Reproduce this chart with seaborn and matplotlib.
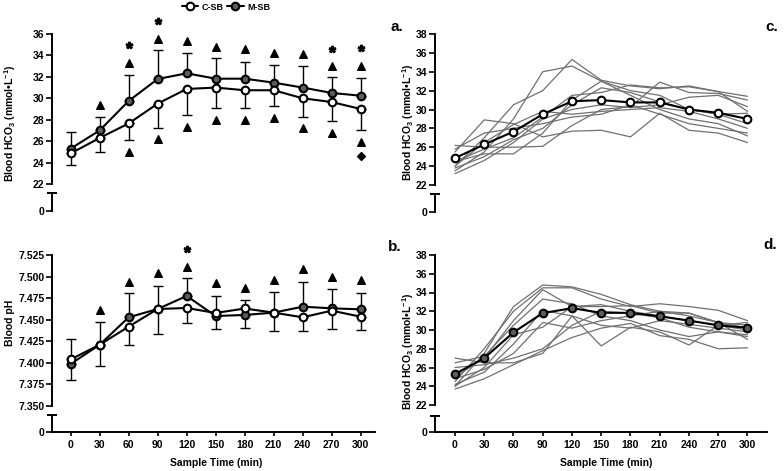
import numpy as np
import pandas as pd
import matplotlib
matplotlib.use("Agg")
import matplotlib.pyplot as plt
import seaborn as sns
from matplotlib.lines import Line2D

sns.set_theme(style="ticks")
plt.rcParams['font.family'] = ['Liberation Sans', 'DejaVu Sans']
plt.rcParams['font.weight'] = 'bold'
plt.rcParams['mathtext.fontset'] = 'custom'
plt.rcParams['mathtext.rm'] = 'Liberation Sans:bold'
plt.rcParams['mathtext.bf'] = 'Liberation Sans:bold'
plt.rcParams['mathtext.it'] = 'Liberation Sans:bold'
plt.rcParams['mathtext.default'] = 'bf'
for k in ['text.color', 'axes.labelcolor', 'xtick.color', 'ytick.color', 'axes.edgecolor']:
    plt.rcParams[k] = 'black'

# ---------------- data ----------------
times = [0, 30, 60, 90, 120, 150, 180, 210, 240, 270, 300]

c_sb_hco3 = [24.85, 26.3, 27.65, 29.5, 30.87, 31.0, 30.75, 30.75, 30.0, 29.65, 29.0]
c_sb_hco3_sd = [1.03, 1.3, 1.56, 2.25, 2.47, 1.9, 1.64, 1.44, 1.7, 1.75, 1.96]
m_sb_hco3 = [25.3, 27.0, 29.75, 31.8, 32.33, 31.83, 31.83, 31.46, 31.0, 30.5, 30.24]
m_sb_hco3_sd = [1.55, 1.3, 2.45, 2.7, 1.87, 1.9, 1.57, 1.64, 2.05, 1.5, 1.62]

c_sb_ph = [7.404, 7.421, 7.442, 7.4624, 7.4636, 7.4578, 7.463, 7.4582, 7.4528, 7.4605, 7.4535]
c_sb_ph_sd = [0.024, 0.025, 0.0217, 0.0284, 0.0176, 0.0182, 0.0226, 0.0217, 0.0158, 0.0213, 0.0155]
m_sb_ph = [7.3987, 7.421, 7.4528, 7.4624, 7.4775, 7.4543, 7.4555, 7.4582, 7.4651, 7.4632, 7.462]
m_sb_ph_sd = [0.0286, 0.026, 0.0278, 0.0271, 0.0205, 0.0237, 0.0173, 0.0235, 0.0286, 0.022, 0.0193]

# significance annotations (panel a)
a_tri_up_t = [30, 60, 90, 120, 150, 180, 210, 240, 270, 300]
a_tri_up_v = [29.4, 33.3, 35.5, 35.35, 34.8, 34.6, 34.26, 34.1, 33.0, 33.0]
a_tri_dn_t = [60, 90, 120, 150, 180, 210, 240, 270, 300]
a_tri_dn_v = [25.0, 26.2, 27.35, 28.0, 28.0, 28.2, 27.25, 26.8, 25.9]
a_star_t = [60, 90, 270, 300]
a_star_v = [35.0, 37.2, 34.6, 34.66]
a_diam_t = [300]
a_diam_v = [24.6]
# significance annotations (panel b)
b_tri_t = [30, 60, 90, 120, 150, 180, 210, 240, 270, 300]
b_tri_v = [7.461, 7.494, 7.504, 7.5115, 7.4922, 7.4868, 7.496, 7.5084, 7.4995, 7.496]
b_star_t = [120]
b_star_v = [7.5316]

# individual C-SB subjects (panel c)
c_subjects = [
    [24.0, 27.0, 30.5, 32.0, 35.3, 33.1, 32.5, 32.2, 32.5, 31.9, 31.4],
    [23.5, 25.5, 29.0, 34.0, 34.6, 33.0, 32.0, 31.5, 30.0, 29.5, 28.5],
    [26.2, 26.0, 26.0, 26.1, 28.3, 30.0, 30.3, 32.9, 31.8, 31.7, 31.0],
    [25.5, 28.9, 28.5, 27.1, 27.7, 27.8, 27.1, 29.6, 27.8, 27.5, 26.5],
    [24.5, 25.3, 25.3, 27.5, 31.0, 33.0, 31.5, 30.0, 29.0, 28.5, 27.2],
    [23.2, 24.6, 26.5, 29.0, 30.0, 30.5, 30.2, 30.5, 31.3, 31.5, 30.3],
    [24.0, 26.5, 28.4, 29.8, 29.5, 29.8, 30.0, 30.2, 29.8, 29.0, 28.0],
    [25.8, 27.5, 28.0, 28.5, 29.2, 29.5, 30.5, 29.5, 28.5, 28.0, 27.5],
    [23.8, 25.0, 26.8, 28.0, 30.5, 32.3, 31.8, 30.8, 30.0, 29.5, 29.6],
    [24.5, 25.8, 27.0, 29.2, 31.5, 31.8, 32.6, 32.3, 32.4, 31.9, 29.8],
]
# individual M-SB subjects (panel d)
m_subjects = [
    [24.0, 27.5, 32.5, 34.8, 34.6, 33.8, 32.7, 32.0, 31.5, 30.8, 29.0],
    [24.5, 28.0, 32.0, 34.5, 34.5, 33.3, 32.5, 32.8, 32.5, 32.1, 31.0],
    [25.0, 27.0, 31.0, 34.3, 32.5, 32.5, 32.6, 31.8, 31.8, 30.8, 30.5],
    [26.5, 27.2, 30.5, 33.3, 32.8, 31.5, 31.0, 30.0, 29.3, 29.8, 29.5],
    [27.0, 26.5, 26.5, 27.5, 31.5, 28.3, 30.3, 29.8, 28.4, 30.5, 30.0],
    [24.2, 25.5, 28.5, 32.1, 31.5, 30.5, 30.2, 31.0, 30.6, 30.2, 29.8],
    [23.7, 24.8, 26.3, 27.8, 29.2, 30.2, 30.7, 29.4, 29.0, 28.0, 28.1],
    [24.0, 26.0, 29.5, 30.3, 32.5, 32.7, 32.0, 31.5, 31.0, 30.5, 30.8],
    [24.8, 25.8, 27.5, 30.8, 30.2, 31.0, 31.5, 32.0, 31.8, 30.8, 30.2],
    [26.0, 26.3, 27.0, 28.0, 30.5, 32.0, 31.8, 31.3, 30.3, 29.8, 29.3],
]

hco3_label = r"Blood HCO$_3$ (mmol•L$^{-1}$)"
ph_label = "Blood pH"
x_label = "Sample Time (min)"
legend_labels = ["C-SB", "M-SB"]

# ---------------- styling ----------------
W, H = 784, 471
FS = 7.5
SPW = 1.4
GRAY_FILL = '#5c5c5c'
SUBJ_GRAY = '#707070'

fig = plt.figure(figsize=(W / 100, H / 100), dpi=100)


def fpos(x0, x1, ytop, ybot):
    return [x0 / W, 1 - ybot / H, (x1 - x0) / W, (ybot - ytop) / H]


def style_main(ax, xlim, ylim, yticks, labels):
    ax.set_facecolor('none')
    ax.set_xlim(xlim)
    ax.set_ylim(ylim)
    ax.set_yticks(yticks)
    ax.set_yticklabels(labels, fontsize=FS, fontweight='bold')
    ax.set_xticks([])
    for s in ['top', 'right', 'bottom']:
        ax.spines[s].set_visible(False)
    ax.spines['left'].set_linewidth(SPW)
    ax.tick_params(axis='y', direction='out', length=4, width=1.2, pad=1.5)
    ax.set_xlabel('')
    ax.set_ylabel('')


def style_low(ax, xlim, bottom):
    ax.set_facecolor('none')
    ax.set_xlim(xlim)
    ax.set_ylim(0, 1)
    ax.set_yticks([0])
    ax.set_yticklabels(['0'], fontsize=FS, fontweight='bold')
    ax.set_yticks([1], minor=True)
    ax.tick_params(axis='y', which='major', direction='out', length=4, width=1.2, pad=1.5)
    ax.tick_params(axis='y', which='minor', direction='inout', length=7, width=1.4)
    for s in ['top', 'right']:
        ax.spines[s].set_visible(False)
    ax.spines['left'].set_linewidth(SPW)
    if bottom:
        ax.spines['bottom'].set_linewidth(SPW)
        ax.set_xticks(times)
        ax.set_xticklabels([str(t) for t in times], fontsize=FS, fontweight='bold')
        ax.tick_params(axis='x', direction='out', length=3, width=1.2, pad=3)
    else:
        ax.spines['bottom'].set_visible(False)
        ax.set_xticks([])


xlim_l = (-19.3, 314.8)
xlim_r = (-20.5, 320.0)

ax_a = fig.add_axes(fpos(52, 375, 34, 184))
ax_a0 = fig.add_axes(fpos(52, 375, 193, 211))
ax_b = fig.add_axes(fpos(52, 375, 255, 406))
ax_b0 = fig.add_axes(fpos(52, 375, 415, 432))
ax_c = fig.add_axes(fpos(435, 767, 34, 185))
ax_c0 = fig.add_axes(fpos(435, 767, 194, 212))
ax_d = fig.add_axes(fpos(435, 767, 255, 405))
ax_d0 = fig.add_axes(fpos(435, 767, 416, 432))

c_kw = dict(color='black', lw=1.5, marker='o', markersize=5.5, markerfacecolor='white',
            markeredgecolor='black', markeredgewidth=1.5)
m_kw = dict(color='black', lw=1.5, marker='o', markersize=5.5, markerfacecolor=GRAY_FILL,
            markeredgecolor='black', markeredgewidth=1.5)
eb_kw = dict(fmt='none', ecolor='black', elinewidth=1.0, capsize=3.5, capthick=1.0, zorder=1)

zeros = [0] * len(times)

# ---- panel a ----
ax_a.errorbar(times, m_sb_hco3, yerr=[zeros, m_sb_hco3_sd], **eb_kw)
ax_a.errorbar(times, c_sb_hco3, yerr=[c_sb_hco3_sd, zeros], **eb_kw)
sns.lineplot(x=times, y=m_sb_hco3, ax=ax_a, zorder=3, **m_kw)
sns.lineplot(x=times, y=c_sb_hco3, ax=ax_a, zorder=4, **c_kw)
ax_a.scatter(a_tri_up_t, a_tri_up_v, marker='^', s=30, color='black', clip_on=False, zorder=5)
ax_a.scatter(a_tri_dn_t, a_tri_dn_v, marker='^', s=30, color='black', clip_on=False, zorder=5)
ax_a.scatter(a_star_t, a_star_v, marker='$*$', s=22, color='black', clip_on=False, zorder=5)
ax_a.scatter(a_diam_t, a_diam_v, marker='D', s=16, color='black', clip_on=False, zorder=5)
style_main(ax_a, xlim_l, (22, 36), list(range(22, 37, 2)), [str(v) for v in range(22, 37, 2)])
style_low(ax_a0, xlim_l, False)

# ---- panel b ----
ax_b.errorbar(times, m_sb_ph, yerr=[zeros, m_sb_ph_sd], **eb_kw)
ax_b.errorbar(times, c_sb_ph, yerr=[c_sb_ph_sd, zeros], **eb_kw)
sns.lineplot(x=times, y=m_sb_ph, ax=ax_b, zorder=3, **m_kw)
sns.lineplot(x=times, y=c_sb_ph, ax=ax_b, zorder=4, **c_kw)
ax_b.scatter(b_tri_t, b_tri_v, marker='^', s=30, color='black', clip_on=False, zorder=5)
ax_b.scatter(b_star_t, b_star_v, marker='$*$', s=22, color='black', clip_on=False, zorder=5)
ph_ticks = [7.350, 7.375, 7.400, 7.425, 7.450, 7.475, 7.500, 7.525]
style_main(ax_b, xlim_l, (7.350, 7.525), ph_ticks, [f"{v:.3f}" for v in ph_ticks])
style_low(ax_b0, xlim_l, True)


def long_df(subjects):
    rows = []
    for i, s in enumerate(subjects):
        for t, v in zip(times, s):
            rows.append({'subject': i, 'time': t, 'value': v})
    return pd.DataFrame(rows)


# ---- panel c ----
sns.lineplot(data=long_df(c_subjects), x='time', y='value', units='subject', estimator=None,
             color=SUBJ_GRAY, lw=0.9, ax=ax_c, zorder=2)
sns.lineplot(x=times, y=c_sb_hco3, ax=ax_c, zorder=4, **c_kw)
style_main(ax_c, xlim_r, (22, 38), list(range(22, 39, 2)), [str(v) for v in range(22, 39, 2)])
style_low(ax_c0, xlim_r, False)

# ---- panel d ----
sns.lineplot(data=long_df(m_subjects), x='time', y='value', units='subject', estimator=None,
             color=SUBJ_GRAY, lw=0.9, ax=ax_d, zorder=2)
sns.lineplot(x=times, y=m_sb_hco3, ax=ax_d, zorder=4, **m_kw)
style_main(ax_d, xlim_r, (22, 38), list(range(22, 39, 2)), [str(v) for v in range(22, 39, 2)])
style_low(ax_d0, xlim_r, True)

# ---- labels ----
fig.text(10 / W, 1 - 123 / H, hco3_label, rotation=90, ha='center', va='center', fontsize=FS, fontweight='bold')
fig.text(10 / W, 1 - 323 / H, ph_label, rotation=90, ha='center', va='center', fontsize=FS, fontweight='bold')
fig.text(408 / W, 1 - 122 / H, hco3_label, rotation=90, ha='center', va='center', fontsize=FS, fontweight='bold')
fig.text(408 / W, 1 - 351 / H, hco3_label, rotation=90, ha='center', va='center', fontsize=FS, fontweight='bold')
fig.text(216 / W, 1 - 463 / H, x_label, ha='center', va='center', fontsize=FS, fontweight='bold')
fig.text(606 / W, 1 - 463 / H, x_label, ha='center', va='center', fontsize=FS, fontweight='bold')

for lab, (px, py) in zip(['a.', 'b.', 'c.', 'd.'], [(397, 27), (395, 247), (772, 27), (770, 245)]):
    fig.text(px / W, 1 - py / H, lab, ha='center', va='center', fontsize=11, fontweight='bold')

handles = [Line2D([], [], **c_kw), Line2D([], [], **m_kw)]
fig.legend(handles, legend_labels, loc='center', bbox_to_anchor=(226 / W, 1 - 7 / H), ncol=2,
           frameon=False, prop={'size': 6.5, 'weight': 'bold'}, handlelength=1.8,
           columnspacing=0.4, handletextpad=0.4, borderpad=0)

fig.savefig('out.png', dpi=100)
